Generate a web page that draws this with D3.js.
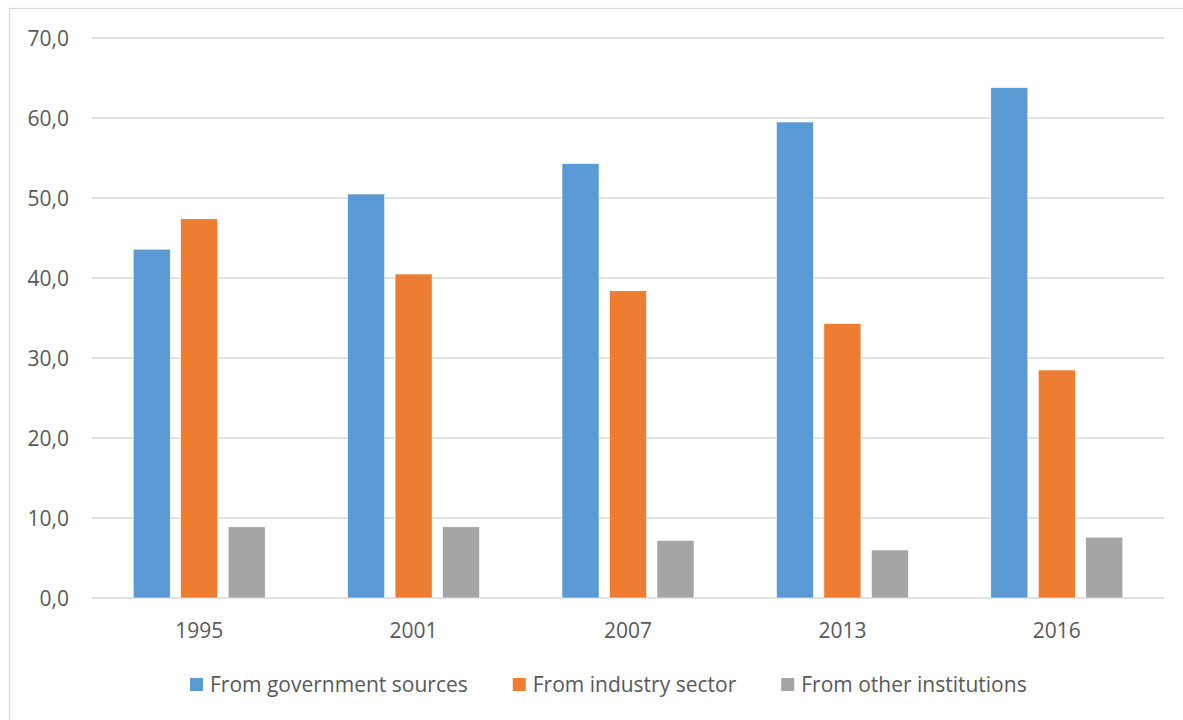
<!DOCTYPE html>
<html><head><meta charset="utf-8">
<script src="https://cdn.jsdelivr.net/npm/d3@7/dist/d3.min.js"></script>
<style>
html,body{margin:0;padding:0;background:#fff;}
svg{display:block;font-family:"Open Sans",sans-serif;}
</style></head>
<body>
<svg id="chart" width="1183" height="720"></svg>
<script>
const years = ["1995","2001","2007","2013","2016"];
const seriesNames = ["From government sources","From industry sector","From other institutions"];
const government = [43.6, 50.5, 54.3, 59.5, 63.8];
const industry = [47.4, 40.5, 38.4, 34.3, 28.5];
const other = [8.9, 8.9, 7.2, 6.0, 7.6];
const colors = ["#5b9bd5","#ed7d31","#a5a5a5"];
const yTicks = [0,10,20,30,40,50,60,70];

const seriesValues = [government, industry, other];
const svg = d3.select("#chart");
const fs = 21;

// chart frame (extends past right/bottom edges)
svg.append("rect").attr("x",9.5).attr("y",8.5).attr("width",1200).attr("height",730)
  .attr("fill","#fff").attr("stroke","#d9d9d9").attr("stroke-width",1.3);

const pLeft = 92, pRight = 1164, pTop = 38, pBottom = 598;
const x0 = d3.scaleBand().domain(years).range([pLeft,pRight]).padding(0);
const groupW = 132;
const x1 = d3.scaleBand().domain(seriesNames).range([0,groupW]).paddingInner(0.22).paddingOuter(0);
const y = d3.scaleLinear().domain([0,70]).range([pBottom,pTop]);

// gridlines
svg.append("g").selectAll("line").data(yTicks).join("line")
  .attr("x1",pLeft).attr("x2",pRight)
  .attr("y1",d=>y(d)).attr("y2",d=>y(d))
  .attr("stroke","#d9d9d9").attr("stroke-width",1.3);

// y axis labels
const yAxis = d3.axisLeft(y).tickValues(yTicks).tickSize(0).tickPadding(0)
  .tickFormat(d=>d3.format(".1f")(d).replace(".",","));
const gy = svg.append("g").attr("transform","translate(69,0)").call(yAxis);
gy.select(".domain").remove();
gy.selectAll("text").attr("font-size",fs).attr("fill","#595959").attr("font-family","'Open Sans',sans-serif").attr("dy","0.35em");

// bars
const groups = svg.append("g").selectAll("g").data(years).join("g")
  .attr("transform",d=>`translate(${x0(d)+(x0.bandwidth()-groupW)/2},0)`);
groups.selectAll("rect").data((yr,i)=>seriesNames.map((s,j)=>({s, j, v: seriesValues[j][i]})))
  .join("rect")
  .attr("x",d=>x1(d.s)).attr("width",x1.bandwidth())
  .attr("y",d=>y(d.v)).attr("height",d=>pBottom-y(d.v))
  .attr("fill",d=>colors[d.j]).attr("stroke","#fff").attr("stroke-width",0.6);

// x axis labels
const xAxis = d3.axisBottom(x0).tickSize(0).tickPadding(0);
const gx = svg.append("g").attr("transform",`translate(0,${pBottom})`).call(xAxis);
gx.select(".domain").remove();
gx.selectAll("text").attr("font-size",fs).attr("fill","#595959").attr("font-family","'Open Sans',sans-serif").attr("dy","0").attr("y",40);

// legend
const legend = svg.append("g");
let lx = 190;
seriesNames.forEach((s,i)=>{
  const g = legend.append("g").attr("transform",`translate(${lx},0)`);
  g.append("rect").attr("x",0).attr("y",678).attr("width",13).attr("height",13).attr("fill",colors[i]);
  const t = g.append("text").attr("x",20).attr("y",692).attr("font-size",fs).attr("fill","#595959").text(s);
  const w = t.node().getComputedTextLength();
  lx += 20 + w + 45;
});
</script>
</body></html>
